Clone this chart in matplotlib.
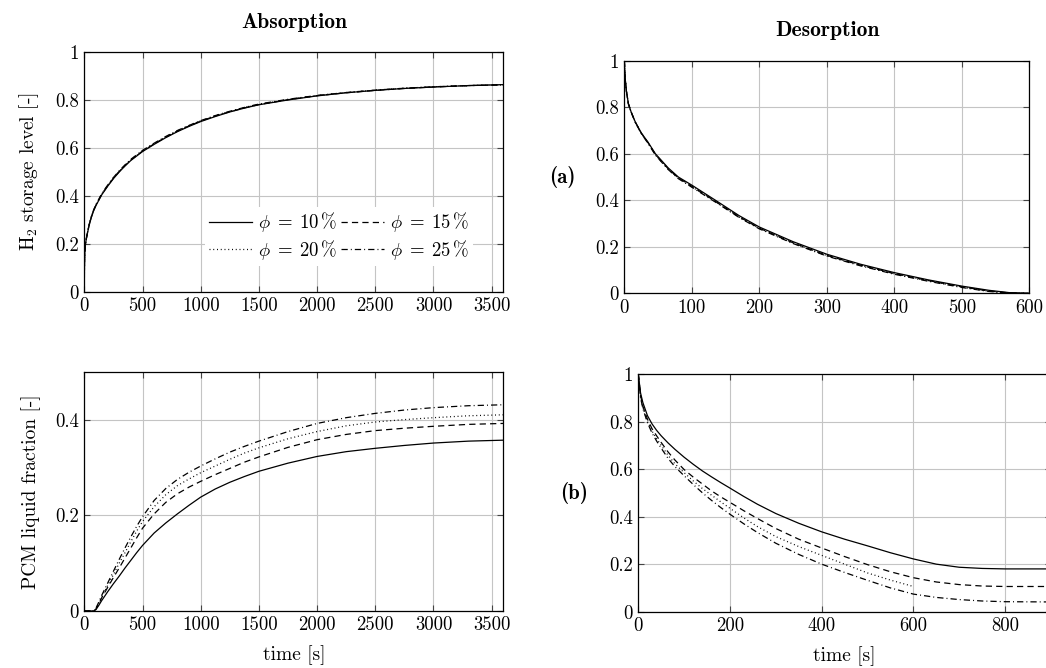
import matplotlib
matplotlib.use("Agg")
import matplotlib.pyplot as plt
from matplotlib.ticker import FuncFormatter

# ---- data ----
PHI_LABELS = [r"$\phi\;=\;10\,\%$", r"$\phi\;=\;15\,\%$", r"$\phi\;=\;20\,\%$", r"$\phi\;=\;25\,\%$"]

# (a) H2 storage level, absorption
t_abs_h2 = [0, 1, 3, 8, 15, 25, 40, 60, 80, 100, 150, 200, 250, 300, 350, 400, 500, 600, 700,
            800, 900, 1000, 1125, 1250, 1375, 1500, 1750, 2000, 2250, 2500, 2750, 3000, 3300, 3600]
h2_abs_10 = [0, 0.10, 0.15, 0.19, 0.215, 0.24, 0.275, 0.31, 0.338, 0.36, 0.405, 0.44, 0.472,
             0.50, 0.525, 0.548, 0.585, 0.615, 0.643, 0.668, 0.69, 0.71, 0.731, 0.75, 0.766,
             0.78, 0.80, 0.817, 0.83, 0.84, 0.848, 0.854, 0.86, 0.864]
h2_abs_15 = [0, 0.10, 0.15, 0.19, 0.216, 0.241, 0.276, 0.312, 0.34, 0.362, 0.407, 0.442, 0.474,
             0.502, 0.527, 0.55, 0.587, 0.617, 0.645, 0.67, 0.692, 0.712, 0.733, 0.751, 0.767,
             0.781, 0.801, 0.818, 0.83, 0.84, 0.848, 0.854, 0.86, 0.863]
h2_abs_20 = [0, 0.10, 0.15, 0.19, 0.216, 0.242, 0.277, 0.313, 0.341, 0.363, 0.408, 0.443, 0.475,
             0.503, 0.528, 0.551, 0.588, 0.618, 0.646, 0.671, 0.693, 0.713, 0.734, 0.752, 0.768,
             0.782, 0.802, 0.818, 0.831, 0.841, 0.849, 0.855, 0.86, 0.864]
h2_abs_25 = [0, 0.10, 0.15, 0.19, 0.217, 0.243, 0.278, 0.314, 0.342, 0.364, 0.41, 0.445, 0.477,
             0.505, 0.53, 0.553, 0.59, 0.62, 0.648, 0.673, 0.694, 0.714, 0.735, 0.753, 0.769,
             0.783, 0.803, 0.819, 0.831, 0.841, 0.849, 0.855, 0.86, 0.863]

# (a) H2 storage level, desorption
t_des_h2 = [0, 1, 3, 6, 10, 16, 25, 35, 46, 65, 80, 100, 135, 170, 200, 250, 300,
            350, 400, 450, 500, 540, 570, 600]
h2_des_10 = [1.0, 0.93, 0.87, 0.815, 0.78, 0.738, 0.69, 0.65, 0.60, 0.539, 0.50, 0.465, 0.40,
             0.334, 0.285, 0.222, 0.168, 0.125, 0.089, 0.058, 0.031, 0.013, 0.003, 0.0]
h2_des_15 = [1.0, 0.93, 0.87, 0.815, 0.78, 0.737, 0.689, 0.648, 0.597, 0.535, 0.496, 0.460, 0.395,
             0.329, 0.280, 0.217, 0.163, 0.121, 0.085, 0.055, 0.028, 0.010, 0.002, 0.0]
h2_des_20 = [1.0, 0.93, 0.87, 0.815, 0.78, 0.737, 0.688, 0.647, 0.596, 0.534, 0.495, 0.458, 0.394,
             0.328, 0.279, 0.216, 0.162, 0.120, 0.084, 0.054, 0.027, 0.009, 0.001, 0.0]
h2_des_25 = [1.0, 0.93, 0.87, 0.814, 0.779, 0.736, 0.687, 0.645, 0.594, 0.532, 0.493, 0.456, 0.392,
             0.326, 0.277, 0.214, 0.160, 0.118, 0.082, 0.052, 0.025, 0.008, 0.001, 0.0]

# (b) PCM liquid fraction, absorption
t_abs_pcm = [0, 80, 100, 125, 150, 200, 250, 300, 350, 400, 450, 500, 600, 700, 800, 900, 1000,
             1125, 1250, 1375, 1500, 1750, 2000, 2250, 2500, 2750, 3000, 3300, 3600]
pcm_abs_10 = [0, 0, 0.003, 0.012, 0.022, 0.040, 0.057, 0.073, 0.090, 0.106, 0.122, 0.137, 0.163,
              0.184, 0.203, 0.221, 0.238, 0.255, 0.269, 0.281, 0.292, 0.309, 0.323, 0.333,
              0.340, 0.346, 0.351, 0.355, 0.357]
pcm_abs_15 = [0, 0, 0.004, 0.015, 0.028, 0.049, 0.070, 0.090, 0.111, 0.132, 0.153, 0.173, 0.203,
              0.227, 0.245, 0.259, 0.271, 0.285, 0.298, 0.311, 0.322, 0.342, 0.358, 0.369,
              0.377, 0.382, 0.386, 0.390, 0.392]
pcm_abs_20 = [0, 0, 0.004, 0.016, 0.030, 0.053, 0.076, 0.100, 0.122, 0.145, 0.167, 0.187, 0.218,
              0.243, 0.262, 0.276, 0.289, 0.303, 0.317, 0.330, 0.341, 0.360, 0.375, 0.387,
              0.395, 0.400, 0.404, 0.408, 0.410]
pcm_abs_25 = [0, 0, 0.006, 0.019, 0.033, 0.058, 0.083, 0.108, 0.132, 0.155, 0.177, 0.197, 0.231,
              0.256, 0.275, 0.290, 0.303, 0.318, 0.332, 0.344, 0.355, 0.375, 0.392, 0.404,
              0.413, 0.420, 0.425, 0.429, 0.431]

# (b) PCM liquid fraction, desorption (the 20 % run stops at 600 s)
t_des_pcm = [0, 5, 10, 20, 30, 40, 50, 65, 80, 100, 120, 140, 160, 180, 200, 230, 260, 300,
             350, 400, 450, 500, 550, 600, 650, 700, 750, 800, 900]
pcm_des_10 = [1.0, 0.92, 0.88, 0.825, 0.79, 0.763, 0.74, 0.71, 0.683, 0.65, 0.62, 0.592,
              0.567, 0.543, 0.52, 0.485, 0.452, 0.413, 0.372, 0.336, 0.305, 0.277, 0.248,
              0.222, 0.200, 0.187, 0.182, 0.180, 0.180]
pcm_des_15 = [1.0, 0.91, 0.865, 0.81, 0.77, 0.74, 0.712, 0.672, 0.638, 0.598, 0.566, 0.537,
              0.508, 0.483, 0.46, 0.425, 0.392, 0.35, 0.305, 0.268, 0.232, 0.198, 0.168,
              0.143, 0.125, 0.114, 0.108, 0.106, 0.106]
pcm_des_20 = [1.0, 0.905, 0.86, 0.80, 0.76, 0.728, 0.70, 0.658, 0.622, 0.585, 0.55, 0.518,
              0.49, 0.462, 0.435, 0.395, 0.358, 0.316, 0.274, 0.237, 0.200, 0.163, 0.133, 0.106]
pcm_des_25 = [1.0, 0.90, 0.855, 0.795, 0.752, 0.718, 0.688, 0.645, 0.61, 0.572, 0.535, 0.50,
              0.468, 0.438, 0.41, 0.37, 0.333, 0.288, 0.241, 0.200, 0.165, 0.132, 0.100,
              0.074, 0.060, 0.051, 0.045, 0.042, 0.041]

# pgfplots-like line styles (dash lengths in points)
STYLES = [dict(ls="-"),
          dict(ls=(0, (4.5, 3.0))),
          dict(ls=(0, (0.7, 2.0))),
          dict(ls=(0, (4.5, 2.2, 0.7, 2.2)))]

plt.rcParams.update({
    "font.family": "cmr10",
    "mathtext.fontset": "cm",
    "axes.formatter.use_mathtext": True,
    "font.size": 13.5,
    "lines.scale_dashes": False,
})

fig = plt.figure(figsize=(10.46, 6.68), dpi=100)
ax_abs_h2 = fig.add_axes([0.0806, 0.5629, 0.4006, 0.3593])
ax_des_h2 = fig.add_axes([0.5969, 0.5609, 0.3872, 0.3482])
ax_abs_pcm = fig.add_axes([0.0806, 0.0853, 0.4006, 0.3582])
ax_des_pcm = fig.add_axes([0.6102, 0.0843, 0.3945, 0.3558])

fmt = FuncFormatter(lambda v, p: f"{v:g}")


def style_axes(ax, xlim, ylim, xticks, yticks):
    ax.set_xlim(*xlim)
    ax.set_ylim(*ylim)
    ax.set_xticks(xticks)
    ax.set_yticks(yticks)
    ax.xaxis.set_major_formatter(fmt)
    ax.yaxis.set_major_formatter(fmt)
    ax.grid(True, color="#c4c4c4", lw=0.8)
    ax.set_axisbelow(True)
    ax.tick_params(direction="in", top=True, right=True, length=4, width=0.8,
                   color="#444444", labelsize=13.5, pad=4)
    for s in ax.spines.values():
        s.set_linewidth(0.9)
        s.set_color("black")


def draw(ax, ts, series):
    lines = []
    for ys, st, lab in zip(series, STYLES, PHI_LABELS):
        (ln,) = ax.plot(ts[:len(ys)], ys, color="black", lw=0.9, label=lab, **st)
        lines.append(ln)
    return lines


hs = draw(ax_abs_h2, t_abs_h2, [h2_abs_10, h2_abs_15, h2_abs_20, h2_abs_25])
draw(ax_des_h2, t_des_h2, [h2_des_10, h2_des_15, h2_des_20, h2_des_25])
draw(ax_abs_pcm, t_abs_pcm, [pcm_abs_10, pcm_abs_15, pcm_abs_20, pcm_abs_25])
draw(ax_des_pcm, t_des_pcm, [pcm_des_10, pcm_des_15, pcm_des_20, pcm_des_25])

abs_xt = [0, 500, 1000, 1500, 2000, 2500, 3000, 3500]
style_axes(ax_abs_h2, (0, 3600), (0, 1), abs_xt, [0, 0.2, 0.4, 0.6, 0.8, 1])
style_axes(ax_abs_pcm, (0, 3600), (0, 0.5), abs_xt, [0, 0.2, 0.4])
style_axes(ax_des_h2, (0, 600), (0, 1), [0, 100, 200, 300, 400, 500, 600],
           [0, 0.2, 0.4, 0.6, 0.8, 1])
style_axes(ax_des_pcm, (0, 900), (0, 1), [0, 200, 400, 600, 800],
           [0, 0.2, 0.4, 0.6, 0.8, 1])

ax_abs_h2.set_ylabel(r"H$_2$ storage level [-]", fontsize=14)
ax_abs_pcm.set_ylabel("PCM liquid fraction [-]", fontsize=14)
ax_abs_h2.yaxis.set_label_coords(-0.103, 0.5)
ax_abs_pcm.yaxis.set_label_coords(-0.103, 0.5)
ax_abs_pcm.set_xlabel("time [s]", fontsize=14, labelpad=8)
ax_des_pcm.set_xlabel("time [s]", fontsize=14, labelpad=8)

# legend: rows 10/15 and 20/25 -> column-major order for ncol=2
order = [0, 2, 1, 3]
leg = ax_abs_h2.legend([hs[i] for i in order], [PHI_LABELS[i] for i in order],
                       ncol=2, loc="lower right", bbox_to_anchor=(0.95, 0.07),
                       fontsize=13.5, frameon=True, framealpha=1, edgecolor="none",
                       fancybox=False, handlelength=2.3, handletextpad=0.3,
                       columnspacing=0.2, labelspacing=0.2, borderpad=0.2)

fig.text(0.281, 0.967, "Absorption", family="cmb10", fontsize=15.5, ha="center", va="center")
fig.text(0.7906, 0.9536, "Desorption", family="cmb10", fontsize=15.5, ha="center", va="center")
fig.text(0.5373, 0.735, "(a)", family="cmb10", fontsize=15, ha="center", va="center")
fig.text(0.5488, 0.262, "(b)", family="cmb10", fontsize=15, ha="center", va="center")

fig.savefig("out.png", dpi=100)
plt.close(fig)
